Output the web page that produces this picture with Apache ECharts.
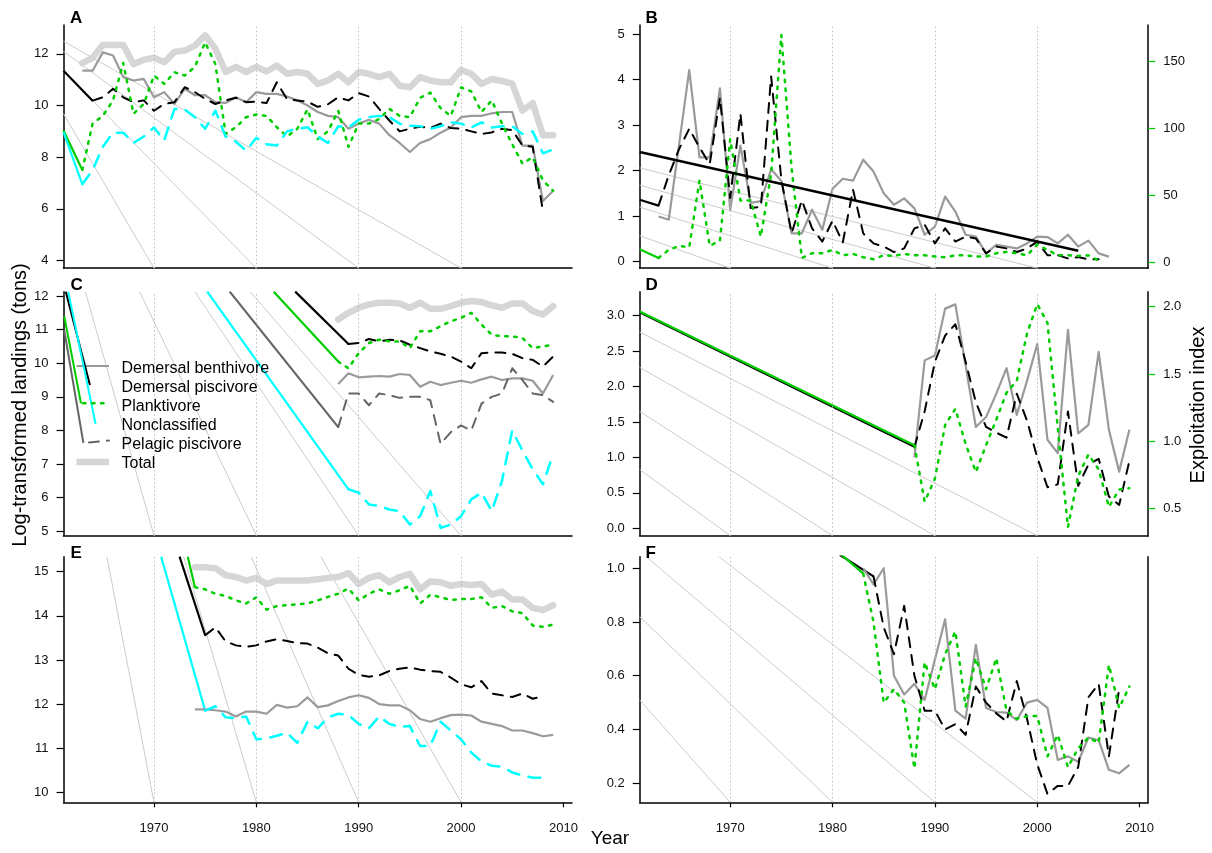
<!DOCTYPE html>
<html><head><meta charset="utf-8">
<script src="https://cdn.jsdelivr.net/npm/echarts@6/dist/echarts.min.js"></script>
<style>html,body{margin:0;padding:0;background:#fff}#c{width:1212px;height:853px}</style>
</head><body><div id="c"></div>
<script>
// ---------- categories / ticks ----------
const years = [1963,1964,1965,1966,1967,1968,1969,1970,1971,1972,1973,1974,1975,1976,1977,1978,1979,1980,1981,1982,1983,1984,1985,1986,1987,1988,1989,1990,1991,1992,1993,1994,1995,1996,1997,1998,1999,2000,2001,2002,2003,2004,2005,2006,2007,2008,2009];
const yearsC = years.slice(25), yearsD = years.slice(25), yearsE = years.slice(11), yearsF = years.slice(20);
const gridYears = [1970,1980,1990,2000];
const tickYears = [1970,1980,1990,2000,2010];
const ticksA = [4,6,8,10,12], ticksBL = [0,1,2,3,4,5], ticksBR = [0,50,100,150];
const ticksC = [5,6,7,8,9,10,11,12], ticksDL = [0,0.5,1,1.5,2,2.5,3], ticksDR = [0.5,1,1.5,2];
const ticksE = [10,11,12,13,14,15], ticksF = [0.2,0.4,0.6,0.8,1.0];
const legendNames = ['Demersal benthivore','Demersal piscivore','Planktivore','Nonclassified','Pelagic piscivore','Total'];

// ---------- panel A (1963-2009) ----------
const totalA = [11.64,11.85,12.35,12.35,12.35,11.6,11.77,11.85,11.68,12.08,12.13,12.32,12.72,12.2,11.3,11.5,11.3,11.5,11.32,11.55,11.23,11.3,11.23,10.84,10.97,11.23,10.9,11.3,11.23,11.1,11.23,10.77,10.71,11.1,10.97,10.9,10.9,11.38,11.23,10.84,11.03,10.95,10.85,9.8,10.1,8.85,8.85];
const benthA = [11.35,11.35,12.06,11.94,11.1,10.97,11.03,10.32,10.52,10.06,10.65,10.4,10.4,10.13,10.1,10.32,10.13,10.52,10.45,10.45,10.35,10.2,10.0,9.75,9.6,9.55,9.1,9.3,9.45,9.3,8.85,8.55,8.2,8.55,8.7,8.95,9.15,9.55,9.6,9.6,9.7,9.75,9.75,8.45,8.45,6.3,6.7];
const piscA = [null,10.19,10.32,10.65,10.32,10.13,10.2,9.8,10.06,10.13,10.71,10.52,10.26,10.06,10.2,10.3,10.13,10.15,10.1,10.9,10.25,10.2,10.15,9.95,10.05,10.32,10.2,10.48,10.35,9.87,9.42,9.0,9.1,9.18,9.13,9.3,9.13,9.1,9.0,8.9,8.96,9.1,9.05,8.45,8.4,5.9,null];
const planktA = [7.5,9.3,9.6,10.2,11.65,9.68,10.06,11.16,10.84,11.29,11.16,11.5,12.45,11.6,8.9,9.16,9.55,9.65,9.6,9.16,8.8,9.1,9.85,8.7,9.0,9.8,8.4,9.3,9.3,9.48,9.87,9.6,9.55,10.3,10.5,9.9,9.6,10.7,10.55,9.75,10.2,9.3,8.5,7.75,8.0,7.1,6.7];
const nonclA = [6.95,7.5,8.4,8.95,8.95,8.55,8.8,9.15,8.65,9.87,9.85,9.55,9.1,9.8,8.8,8.6,8.25,8.75,8.5,8.45,9.0,9.1,9.16,8.8,8.55,9.2,9.15,9.45,9.55,9.6,9.55,9.3,9.22,9.2,9.1,9.2,9.35,9.3,9.15,9.35,9.15,9.2,9.2,8.9,9.0,8.15,8.3];
const leadA = {pisc:[[1961.16,11.35],[1964,10.19]], plankt:[[1961.16,9.03],[1963,7.5]], noncl:[[1961.16,8.97],[1963,6.95]]};
const guidesA = [[[1961.16,12.49],[2000,3.70]],[[1961.16,12.1],[1990,3.70]],[[1961.16,11.35],[1980,3.70]],[[1961.16,9.68],[1970,3.70]]];

// ---------- panel B (1963-2009) ----------
const benthB = [0.99,0.92,2.56,4.21,2.29,2.29,3.81,1.14,2.55,1.29,1.33,2.03,1.77,0.62,0.62,1.14,0.7,1.6,1.82,1.78,2.24,1.98,1.5,1.25,1.39,1.17,0.59,0.77,1.43,1.1,0.59,0.55,0.18,0.37,0.33,0.29,0.4,0.55,0.54,0.4,0.59,0.33,0.46,0.18,0.11,null,null];
const piscB = [1.23,1.9,2.47,2.92,2.51,2.14,3.6,1.4,3.25,1.18,1.2,4.07,1.8,0.62,1.35,0.73,0.44,0.9,0.42,1.58,0.62,0.4,0.33,0.21,0.29,0.73,0.81,0.4,0.73,0.44,0.55,0.51,0.18,0.33,0.29,0.21,0.29,0.44,0.14,0.14,0.07,0.1,0.05,0.05,null,null,null];
const planktB = [3,9,12,11,61,12,16,92,46,46,19,66,170,70,3,6.5,6.5,9,5,6,3.5,2,5,4.5,6,5,5,4,3.5,5,5,4,4,6.5,7.5,6.5,5,13,9,5,5,4.5,5,1,null,null,null];
const trendB = [[1961.16,2.41],[2004,0.24]];
const leadB = {pisc:[[1961.16,1.36],[1963,1.23]], plankt:[[1961.16,9.5],[1963,3]]};
const guidesB = [[[1961.16,2.06],[2000,-0.145]],[[1961.16,1.68],[1990,-0.145]],[[1961.16,1.2],[1980,-0.145]],[[1961.16,0.57],[1970,-0.145]]];

// ---------- panel C (1988-2009) ----------
const totalC = [11.3,11.5,11.65,11.75,11.8,11.8,11.78,11.65,11.8,11.62,11.62,11.7,11.8,11.85,11.82,11.72,11.65,11.78,11.78,11.55,11.45,11.7];
const benthC = [9.38,9.7,9.58,9.6,9.62,9.6,9.68,9.65,9.3,9.45,9.35,9.42,9.48,9.42,9.52,9.6,9.5,9.55,9.55,9.48,9.1,9.65];
const piscC = [null,10.57,10.6,10.72,10.65,10.7,10.68,10.55,10.45,10.35,10.28,10.2,10.05,9.85,10.3,10.32,10.32,10.28,10.15,10.1,9.9,10.2];
const planktC = [10.05,9.85,10.3,10.6,10.7,10.65,10.65,10.45,10.95,10.95,11.1,11.25,11.35,11.5,11.15,10.85,10.8,10.8,10.75,10.45,10.5,10.55];
const nonclC = [null,6.25,6.15,5.8,5.75,5.65,5.6,5.2,5.45,6.2,5.1,5.2,5.45,5.95,6.15,5.6,6.5,8.0,7.4,6.85,6.4,7.3];
const pelagC = [8.1,9.1,9.1,8.75,9.1,9.05,8.97,9.0,9.0,8.9,7.6,7.95,8.15,8.0,8.8,9.0,9.1,9.85,9.5,9.1,9.05,8.85];
const leadC = {pisc:[[1983.8,12.13],[1989,10.57]], plankt:[[1981.7,12.13],[1988,10.05]], noncl:[[1975.2,12.13],[1989,6.25]], pelag:[[1977.4,12.13],[1988,8.1]]};
const guidesC = [[[1963.3,12.128],[1970,4.869]],[[1968.6,12.128],[1980,4.869]],[[1974.0,12.128],[1990,4.869]],[[1979.4,12.128],[2000,4.869]]];

// ---------- panel D (1988-2009) ----------
const benthD = [1.0,2.37,2.44,3.1,3.16,2.3,1.43,1.57,1.9,2.26,1.6,2.08,2.6,1.25,1.06,2.8,1.34,1.46,2.49,1.39,0.8,1.39];
const piscD = [1.15,1.65,2.35,2.72,2.88,2.35,1.78,1.43,1.35,1.28,1.9,1.52,1.0,0.58,0.62,1.65,0.6,0.9,0.98,0.45,0.33,0.95];
const planktD = [0.97,0.55,0.72,1.12,1.24,0.98,0.77,0.97,1.16,1.36,1.45,1.8,2.02,1.88,1.1,0.36,0.74,0.9,0.79,0.51,0.64,0.65];
const leadD = {pisc:[[1961.16,3.05],[1988,1.15]], plankt:[[1961.16,1.965],[1988,0.97]]};
const guidesD = [[[1961.16,2.77],[2000,-0.104]],[[1961.16,2.27],[1990,-0.104]],[[1961.16,1.65],[1980,-0.104]],[[1961.16,0.83],[1970,-0.104]]];

// ---------- panel E (1974-2009) ----------
const totalE = [15.1,15.1,15.08,14.92,14.88,14.8,14.86,14.72,14.8,14.8,14.8,14.8,14.83,14.86,14.88,14.97,14.72,14.86,14.92,14.76,14.88,14.95,14.6,14.78,14.76,14.68,14.72,14.7,14.72,14.48,14.55,14.37,14.37,14.18,14.13,14.24];
const benthE = [11.88,11.88,11.86,11.83,11.72,11.83,11.83,11.78,11.98,11.92,11.95,12.15,11.93,11.97,12.07,12.15,12.2,12.14,12.0,11.97,11.97,11.86,11.66,11.6,11.68,11.75,11.76,11.74,11.6,11.55,11.5,11.4,11.4,11.34,11.27,11.3];
const piscE = [null,13.56,13.74,13.42,13.33,13.3,13.33,13.42,13.47,13.43,13.38,13.37,13.28,13.15,13.1,12.8,12.66,12.62,12.65,12.75,12.8,12.83,12.78,12.75,12.73,12.6,12.45,12.38,12.52,12.24,12.2,12.16,12.24,12.12,12.18,null];
const planktE = [14.65,14.6,14.5,14.45,14.35,14.28,14.42,14.14,14.22,14.24,14.26,14.28,14.35,14.43,14.5,14.62,14.35,14.5,14.6,14.5,14.58,14.68,14.28,14.48,14.42,14.36,14.38,14.38,14.42,14.18,14.22,14.1,14.06,13.78,13.75,13.8];
const nonclE = [null,11.85,11.95,11.7,11.68,11.72,11.2,11.22,11.28,11.35,11.12,11.6,11.45,11.7,11.78,11.75,11.55,11.45,11.72,11.55,11.48,11.5,11.05,11.05,11.6,11.4,11.2,10.9,10.7,10.6,10.58,10.45,10.38,10.33,10.33,null];
const leadE = {pisc:[[1972.5,15.34],[1975,13.56]], plankt:[[1973.3,15.34],[1974,14.65]], noncl:[[1970.7,15.34],[1975,11.85]]};
const guidesE = [[[1965.4,15.34],[1970,9.773]],[[1972.9,15.34],[1980,9.773]],[[1979.5,15.34],[1990,9.773]],[[1986.3,15.34],[2000,9.773]]];

// ---------- panel F (1983-2009) ----------
const benthF = [1.0,0.94,1.0,0.6,0.53,0.57,0.51,0.66,0.81,0.47,0.44,0.715,0.48,0.465,0.463,0.435,0.5,0.51,0.48,0.287,0.3,0.28,0.37,0.36,0.25,0.237,0.268];
const piscF = [null,0.97,0.78,0.68,0.86,0.6,0.47,0.47,0.4,0.42,0.38,0.56,0.5,0.46,0.43,0.58,0.44,0.27,0.16,0.19,0.19,0.26,0.52,0.57,0.3,0.55,null];
const planktF = [0.98,0.8,0.5,0.55,0.5,0.255,0.65,0.55,0.68,0.765,0.485,0.665,0.55,0.665,0.47,0.44,0.45,0.45,0.3,0.38,0.26,0.33,0.37,0.35,0.64,0.48,0.56];
const leadF = {pisc:[[1980.7,1.05],[1984,0.97]], plankt:[[1980.7,1.056],[1983,0.98]]};
const guidesF = [[[1961.16,0.51],[1970,0.129]],[[1961.16,0.82],[1980,0.129]],[[1961.8,1.043],[1990,0.129]],[[1968.9,1.043],[2000,0.129]]];

// ---------- styles ----------
const FONT = 'Liberation Sans, Arial, sans-serif';
const XMIN = 1961.16, XMAX = 2010.84;
const C_BENTH = '#9a9a9a', C_PISC = '#000000', C_PLANK = '#00cd00', C_NONCL = '#00ffff', C_PELAG = '#666666', C_TOTAL = '#d6d6d6', C_GUIDE = '#cccccc';
const ST = {
  total: {color: C_TOTAL, width: 6.5, type: 'solid', cap: 'round'},
  benth: {color: C_BENTH, width: 2.2, type: 'solid'},
  pisc: {color: C_PISC, width: 2, type: [10, 8], cap: 'round'},
  plankt: {color: C_PLANK, width: 2.5, type: [2.5, 6.5], cap: 'round'},
  noncl: {color: C_NONCL, width: 2.5, type: [12, 9.5], cap: 'round'},
  pelag: {color: C_PELAG, width: 2, type: [10, 8], cap: 'round'}
};
const LEAD = {pisc: C_PISC, plankt: C_PLANK, noncl: C_NONCL, pelag: C_PELAG};

const L = 63.5, R = 639.7, W = 508.5;
const grids = [
  {left: L, top: 25, width: W, height: 243.2},
  {left: R, top: 25, width: W, height: 243.2},
  {left: L, top: 291.7, width: W, height: 244},
  {left: R, top: 291.7, width: W, height: 244},
  {left: L, top: 556.7, width: W, height: 245.6},
  {left: R, top: 556.7, width: W, height: 245.6}
];

function xAx(gi, lab) {
  return {type: 'value', gridIndex: gi, min: XMIN, max: XMAX,
    axisLine: {show: true, onZero: false, lineStyle: {color: '#000', width: 1.5}},
    axisTick: {show: lab, customValues: tickYears, length: 5, lineStyle: {color: '#000', width: 1.2}},
    axisLabel: {show: lab, customValues: tickYears, margin: 20, fontSize: 13, color: '#111', fontFamily: FONT, formatter: v => String(v)},
    splitLine: {show: false}};
}
function yAx(gi, min, max, vals, dec, pos, tickColor, showLab) {
  return {type: 'value', gridIndex: gi, min, max, position: pos || 'left',
    axisLine: {show: true, onZero: false, lineStyle: {color: '#000', width: 1.5}},
    axisTick: {show: showLab !== false, customValues: vals, length: 7, lineStyle: {color: tickColor || '#000', width: 1.2}},
    axisLabel: {show: showLab !== false, customValues: vals, margin: 15, fontSize: 13, color: '#111', fontFamily: FONT,
      formatter: v => dec ? v.toFixed(dec) : String(v)},
    splitLine: {show: false}};
}
const xAxis = [0,1,2,3,4,5].map(g => xAx(g, g >= 4));
const yAxis = [
  yAx(0, 3.70, 13.12, ticksA, 0),
  yAx(1, -0.145, 5.2, ticksBL, 0),
  yAx(1, -4.7, 177.5, ticksBR, 0, 'right', C_PLANK),
  yAx(2, 4.869, 12.128, ticksC, 0),
  yAx(3, -0.104, 3.339, ticksDL, 1),
  yAx(3, 0.296, 2.112, ticksDR, 1, 'right', C_PLANK),
  yAx(4, 9.773, 15.34, ticksE, 0),
  yAx(5, 0.129, 1.043, ticksF, 1),
  yAx(5, 0.129, 1.043, [], 0, 'right', '#000', false)
];

const series = [];
function pair(yrs, vals) { return yrs.map((y, i) => [y, vals[i]]); }
function add(gi, yi, data, ls, z, extra) {
  series.push(Object.assign({type: 'line', xAxisIndex: gi, yAxisIndex: yi, data, symbol: 'none', showSymbol: false,
    silent: true, animation: false, z, clip: true, lineStyle: Object.assign({join: 'round'}, ls)}, extra || {}));
}
function guides(gi, yi, arr) {
  arr.forEach((seg, k) => add(gi, yi, seg, {color: C_GUIDE, width: 1}, 1, k === 0 ? {markLine: {
    silent: true, symbol: ['none', 'none'], animation: false, label: {show: false},
    lineStyle: {color: '#bdbdbd', width: 1, type: [1.5, 2.5]},
    data: gridYears.map(y => ({xAxis: y}))}} : {}));
}
function leads(gi, yiMap, obj) {
  Object.keys(obj).forEach(k => add(gi, yiMap[k], obj[k], {color: LEAD[k], width: 2.2, type: 'solid'}, 3));
}

// A
guides(0, 0, guidesA);
add(0, 0, pair(years, totalA), ST.total, 2);
leads(0, {pisc: 0, plankt: 0, noncl: 0}, leadA);
add(0, 0, pair(years, benthA), ST.benth, 4);
add(0, 0, pair(years, piscA), ST.pisc, 5);
add(0, 0, pair(years, planktA), ST.plankt, 6);
add(0, 0, pair(years, nonclA), ST.noncl, 7);
// B
guides(1, 1, guidesB);
leads(1, {pisc: 1, plankt: 2}, leadB);
add(1, 1, pair(years, benthB), ST.benth, 4);
add(1, 1, pair(years, piscB), ST.pisc, 5);
add(1, 2, pair(years, planktB), ST.plankt, 6);
add(1, 1, trendB, {color: '#000', width: 2.5}, 9);
// C
guides(2, 3, guidesC);
add(2, 3, pair(yearsC, totalC), ST.total, 2);
leads(2, {pisc: 3, plankt: 3, noncl: 3, pelag: 3}, leadC);
add(2, 3, pair(yearsC, benthC), ST.benth, 4);
add(2, 3, pair(yearsC, piscC), ST.pisc, 5);
add(2, 3, pair(yearsC, planktC), ST.plankt, 6);
add(2, 3, pair(yearsC, nonclC), ST.noncl, 7);
add(2, 3, pair(yearsC, pelagC), ST.pelag, 8);
// D
guides(3, 4, guidesD);
leads(3, {pisc: 4, plankt: 5}, leadD);
add(3, 4, pair(yearsD, benthD), ST.benth, 4);
add(3, 4, pair(yearsD, piscD), ST.pisc, 5);
add(3, 5, pair(yearsD, planktD), ST.plankt, 6);
// E
guides(4, 6, guidesE);
add(4, 6, pair(yearsE, totalE), ST.total, 2);
leads(4, {pisc: 6, plankt: 6, noncl: 6}, leadE);
add(4, 6, pair(yearsE, benthE), ST.benth, 4);
add(4, 6, pair(yearsE, piscE), ST.pisc, 5);
add(4, 6, pair(yearsE, planktE), ST.plankt, 6);
add(4, 6, pair(yearsE, nonclE), ST.noncl, 7);
// F
guides(5, 7, guidesF);
leads(5, {pisc: 7, plankt: 7}, leadF);
add(5, 7, pair(yearsF, benthF), ST.benth, 4);
add(5, 7, pair(yearsF, piscF), ST.pisc, 5);
add(5, 7, pair(yearsF, planktF), ST.plankt, 6);

// ---------- texts & legend ----------
function txt(x, y, text, font, extra) {
  return Object.assign({type: 'text', x, y, z: 100, silent: true,
    style: {text, font, fill: '#000', align: 'left', verticalAlign: 'middle', textAlign: 'left', textVerticalAlign: 'middle'}}, extra || {});
}
function seg(x1, y1, x2, y2, stroke, lw, dash) {
  return {type: 'line', z: 100, silent: true, shape: {x1, y1, x2, y2},
    style: {stroke, lineWidth: lw, lineDash: dash || null, lineCap: dash ? 'round' : 'butt'}};
}
const LB = 'bold 17px ' + FONT;
const graphic = [
  txt(70, 18, 'A', LB), txt(645.5, 18, 'B', LB), txt(70.5, 285.5, 'C', LB),
  txt(645.5, 285.5, 'D', LB), txt(70.5, 553, 'E', LB), txt(645.5, 553, 'F', LB),
  {type: 'text', x: 20, y: 405, rotation: Math.PI / 2, z: 100, silent: true,
    style: {text: 'Log-transformed landings (tons)', font: '20px ' + FONT, fill: '#000', align: 'center', verticalAlign: 'middle', textAlign: 'center', textVerticalAlign: 'middle'}},
  {type: 'text', x: 1198, y: 405, rotation: Math.PI / 2, z: 100, silent: true,
    style: {text: 'Exploitation index', font: '20px ' + FONT, fill: '#000', align: 'center', verticalAlign: 'middle', textAlign: 'center', textVerticalAlign: 'middle'}},
  {type: 'text', x: 610, y: 839, z: 100, silent: true,
    style: {text: 'Year', font: '19px ' + FONT, fill: '#000', align: 'center', verticalAlign: 'middle', textAlign: 'center', textVerticalAlign: 'middle'}},
  // legend samples (as drawn in the original)
  seg(76.5, 366, 109, 366, C_BENTH, 2.2),
  seg(65.8, 291.7, 89.9, 385, C_PISC, 2),
  seg(68.2, 291.7, 95.6, 424, C_NONCL, 2),
  seg(64.2, 316, 81, 403.3, C_PLANK, 2),
  seg(83, 403.3, 104, 403.3, C_PLANK, 2.5, [2.5, 6.5]),
  seg(64.2, 330, 83.4, 443, C_PELAG, 2),
  seg(89, 442.5, 109, 440.5, C_PELAG, 2, [10, 8]),
  seg(76.5, 462, 109, 462, C_TOTAL, 6.5)
];
const legY = [369, 388, 407, 426, 445, 464];
legendNames.forEach((n, i) => graphic.push(txt(121.5, legY[i], n, '16px ' + FONT)));

const chart = echarts.init(document.getElementById('c'), null, {renderer: 'canvas'});
chart.setOption({animation: false, backgroundColor: '#fff', grid: grids, xAxis, yAxis, series, graphic});
</script></body></html>
